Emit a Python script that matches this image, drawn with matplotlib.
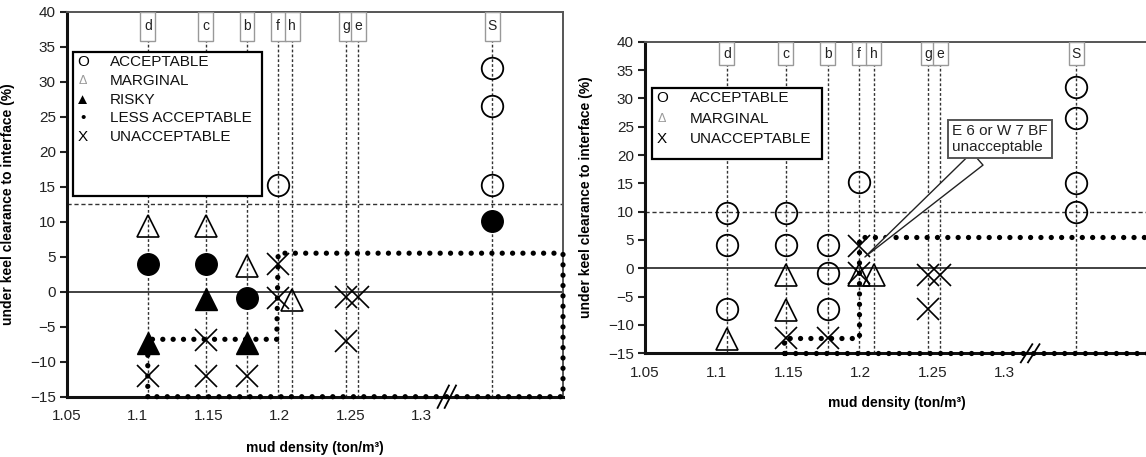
import matplotlib
matplotlib.use('Agg')
import matplotlib.pyplot as plt
from matplotlib.patches import Rectangle

plt.rcParams['font.family'] = ['Liberation Sans', 'DejaVu Sans']

# ---------------- data ----------------
col_names = ['d', 'c', 'b', 'f', 'h', 'g', 'e', 'S']
col_x = [1.107, 1.148, 1.177, 1.199, 1.209, 1.247, 1.2555, 1.35]
xticks = [1.05, 1.1, 1.15, 1.2, 1.25, 1.3]
xticklabels = ['1.05', '1.1', '1.15', '1.2', '1.25', '1.3']
yticks = [-15, -10, -5, 0, 5, 10, 15, 20, 25, 30, 35, 40]
x_break = 1.318

# left panel
L_acc_x = [1.199, 1.35, 1.35, 1.35]
L_acc_y = [15.2, 32, 26.5, 15.3]
L_marg_x = [1.107, 1.148, 1.177, 1.209]
L_marg_y = [9.4, 9.4, 3.7, -1.2]
L_risky_x = [1.107, 1.148, 1.177]
L_risky_y = [-7.3, -1.1, -7.3]
L_less_x = [1.107, 1.148, 1.177, 1.35]
L_less_y = [4.0, 4.0, -0.9, 10.1]
L_unacc_x = [1.107, 1.148, 1.148, 1.177, 1.199, 1.199, 1.247, 1.247, 1.2555]
L_unacc_y = [-12.1, -12.1, -6.9, -12.1, 3.9, -0.9, -0.8, -7.1, -0.8]
L_hline = 12.6
L_loop_x = [1.107, 1.107, 1.198, 1.199, 1.4, 1.4, 1.107]
L_loop_y = [-15, -6.8, -6.8, 5.5, 5.5, -15, -15]
L_legend = [('O', 'ACCEPTABLE'), ('Δ', 'MARGINAL'), ('▲', 'RISKY'),
            ('•', 'LESS ACCEPTABLE'), ('X', 'UNACCEPTABLE')]

# right panel
R_acc_x = [1.107, 1.107, 1.107, 1.148, 1.148, 1.177, 1.177, 1.177, 1.199, 1.35, 1.35, 1.35, 1.35]
R_acc_y = [9.7, 4.1, -7.2, 9.7, 4.1, 4.1, -0.9, -7.2, 15.2, 32, 26.5, 15.1, 10]
R_marg_x = [1.107, 1.148, 1.148, 1.199, 1.209]
R_marg_y = [-12.4, -1.2, -7.4, -1.1, -1.1]
R_unacc_x = [1.148, 1.177, 1.199, 1.199, 1.247, 1.247, 1.2555]
R_unacc_y = [-12.3, -12.3, 4.0, -0.9, -1.2, -7.2, -1.2]
R_hline = 10
R_loop_x = [1.147, 1.147, 1.199, 1.199, 1.4, 1.4, 1.147]
R_loop_y = [-15, -12.3, -12.3, 5.5, 5.5, -15, -15]
R_legend = [('O', 'ACCEPTABLE'), ('Δ', 'MARGINAL'), ('X', 'UNACCEPTABLE')]
callout_text = 'E 6 or W 7 BF\nunacceptable'
callout_xy = (1.203, 2.0)
callout_pos = (1.297, 22.8)

# ---------------- drawing ----------------
fig = plt.figure(figsize=(11.46, 4.57), dpi=100)
axL = fig.add_axes([67 / 1146, (457 - 396.7) / 457, 496 / 1146, 385 / 457])
axR = fig.add_axes([645 / 1146, (457 - 353.3) / 457, 503 / 1146, 311.6 / 457])

MS = 15.5


def setup(ax, hline, loop_x, loop_y, legend, leg_box, leg_rows, ylab_x, xlab_y):
    ax.set_xlim(1.05, 1.4)
    ax.set_ylim(-15, 40)
    ax.set_xticks(xticks)
    ax.set_xticklabels(xticklabels)
    ax.set_yticks(yticks)
    ax.tick_params(axis='x', length=0, pad=9, labelsize=11, colors='#222')
    ax.tick_params(axis='y', length=5, width=1.5, pad=3, labelsize=11, colors='#222',
                   direction='out')
    for s in ['left', 'bottom']:
        ax.spines[s].set_linewidth(2.2)
        ax.spines[s].set_color('#111')
    for s in ['top', 'right']:
        ax.spines[s].set_linewidth(1.4)
        ax.spines[s].set_color('#555')
    ax.set_xlabel('mud density (ton/m³)', fontsize=10, fontweight='bold')
    ax.set_ylabel('under keel clearance to interface (%)', fontsize=10, fontweight='bold')
    ax.yaxis.set_label_coords(ylab_x, 0.5)
    ax.xaxis.set_label_coords(0.5, xlab_y)

    # vertical column lines and label boxes
    for name, x in zip(col_names, col_x):
        ax.plot([x, x], [-15, 35.8], color='#333', lw=1.0, ls=(0, (2, 1.5)), zorder=1)
        w = 0.0105
        ax.add_patch(Rectangle((x - w / 2, 35.8), w, 4.2, fc='white', ec='#999',
                               lw=1.0, zorder=4))
        ax.text(x, 37.9, name, ha='center', va='center', fontsize=10, zorder=5,
                color='#222')

    ax.axhline(hline, color='#333', lw=1.0, ls=(0, (3, 2)), zorder=1)
    ax.axhline(0, color='#333', lw=1.3, zorder=1)

    ax.plot(loop_x, loop_y, color='black', lw=3.8, ls=(0, (0.01, 1.95)),
            dash_capstyle='round', clip_on=False, zorder=3)

    # axis break
    for dx in (-0.0025, 0.0025):
        ax.plot([x_break + dx - 0.004, x_break + dx + 0.004], [-16.6, -13.4],
                color='black', lw=1.3, clip_on=False, zorder=6)

    # legend box
    x0, x1, y0, y1 = leg_box
    ax.add_patch(Rectangle((x0, y0), x1 - x0, y1 - y0, transform=ax.transAxes,
                           fc='white', ec='black', lw=1.6, zorder=3))
    for (sym, lab), yy in zip(legend, leg_rows):
        if sym == 'Δ':
            ax.text(x0 + 0.02, yy, sym, transform=ax.transAxes, fontsize=9,
                    color='#999', ha='center', va='center', zorder=4)
        elif sym == '▲':
            ax.text(x0 + 0.02, yy, sym, transform=ax.transAxes, fontsize=11,
                    color='black', ha='center', va='center', zorder=4)
        else:
            ax.text(x0 + 0.02, yy, sym, transform=ax.transAxes, fontsize=11,
                    color='black', ha='center', va='center', zorder=4)
        ax.text(x0 + 0.075, yy, lab, transform=ax.transAxes, fontsize=11,
                color='#111', ha='left', va='center', zorder=4)


setup(axL, L_hline, L_loop_x, L_loop_y, L_legend,
      (0.012, 0.393, 0.521, 0.895), [0.870, 0.821, 0.771, 0.724, 0.675], -0.105, -0.115)
setup(axR, R_hline, R_loop_x, R_loop_y, R_legend,
      (0.014, 0.352, 0.623, 0.851), [0.818, 0.751, 0.687], -0.103, -0.138)

# left markers
axL.plot(L_acc_x, L_acc_y, 'o', ms=MS, mfc='none', mec='black', mew=1.3, zorder=5)
axL.plot(L_marg_x, L_marg_y, '^', ms=MS, mfc='none', mec='black', mew=1.2, zorder=5)
axL.plot(L_risky_x, L_risky_y, '^', ms=MS, mfc='black', mec='black', mew=1.0, zorder=5)
axL.plot(L_less_x, L_less_y, 'o', ms=MS, mfc='black', mec='black', mew=1.0, zorder=5)
axL.plot(L_unacc_x, L_unacc_y, 'x', ms=MS, mec='black', mew=1.2, zorder=5)

# right markers
axR.plot(R_acc_x, R_acc_y, 'o', ms=MS, mfc='none', mec='black', mew=1.3, zorder=5)
axR.plot(R_marg_x, R_marg_y, '^', ms=MS, mfc='none', mec='black', mew=1.2, zorder=5)
axR.plot(R_unacc_x, R_unacc_y, 'x', ms=MS, mec='black', mew=1.2, zorder=5)

axR.annotate(callout_text, xy=callout_xy, xytext=callout_pos, fontsize=11,
             ha='center', va='center', multialignment='left', color='#222',
             bbox=dict(boxstyle='square,pad=0.25', fc='white', ec='#555', lw=1.4),
             arrowprops=dict(arrowstyle='wedge,tail_width=1.1', fc='white', ec='#222',
                             lw=1.0, shrinkA=0, shrinkB=0),
             zorder=7)

fig.savefig('out.png', dpi=100)
